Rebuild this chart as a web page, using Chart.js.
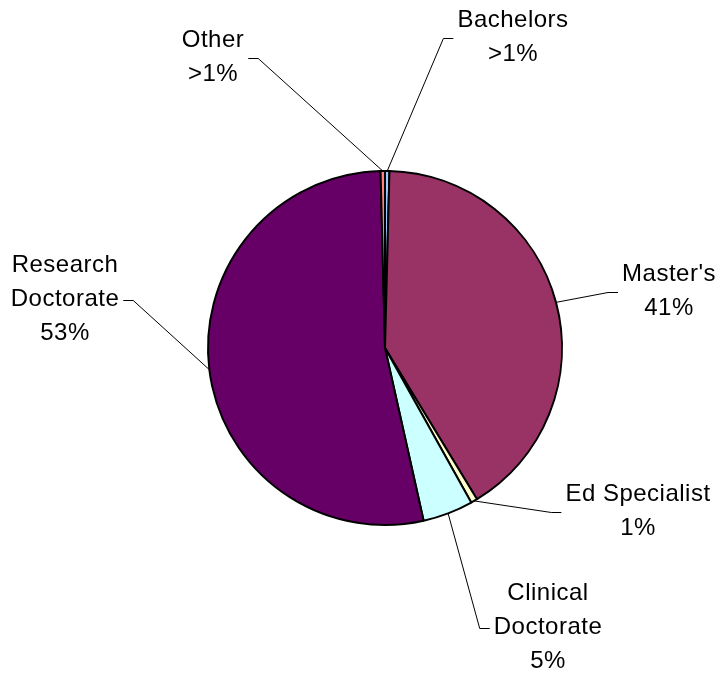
<!DOCTYPE html>
<html>
<head>
<meta charset="utf-8">
<script src="https://cdn.jsdelivr.net/npm/chart.js@4"></script>
<style>
  html, body { margin: 0; padding: 0; background: #fff; }
  canvas { display: block; }
</style>
</head>
<body>
<canvas id="pieChart" width="720" height="673"></canvas>
<script>
// data (percent of total)
const categories = ["Bachelors", "Master's", "Ed Specialist", "Clinical Doctorate", "Research Doctorate", "Other"];
const shares = [0.4, 40.9, 0.6, 4.6, 53.1, 0.4];
const shareLabels = [">1%", "41%", "1%", "5%", "53%", ">1%"];
const labelLines = [
    ["Bachelors"],
    ["Master's"],
    ["Ed Specialist"],
    ["Clinical", "Doctorate"],
    ["Research", "Doctorate"],
    ["Other"]
];

const sliceColors = ["#99CCFF", "#993366", "#FFFFCC", "#CCFFFF", "#660066", "#FF8080"];

// where each label block is centred (canvas px)
const labelPos = [
    [513, 37],
    [669, 291],
    [638, 511],
    [548, 627],
    [65, 299],
    [213, 57]
];

const lineGap = 34;

const calloutPlugin = {
    id: "callouts",
    afterDraw(chart) {
        const ctx = chart.ctx;
        const arcs = chart.getDatasetMeta(0).data;
        ctx.save();
        ctx.font = '24px "Liberation Sans", Arial, sans-serif';
        ctx.letterSpacing = "0.5px";
        ctx.textAlign = "center";
        ctx.textBaseline = "middle";
        arcs.forEach((arc, i) => {
            const p = arc.getProps(["x", "y", "startAngle", "endAngle", "outerRadius"], true);
            const mid = (p.startAngle + p.endAngle) / 2;
            const ex = p.x + Math.cos(mid) * p.outerRadius;
            const ey = p.y + Math.sin(mid) * p.outerRadius;

            const lines = labelLines[i].concat([shareLabels[i]]);
            const [cx, cy] = labelPos[i];
            const top = cy - (lines.length - 1) * lineGap / 2;
            let w = 0;
            lines.forEach((t, k) => {
                ctx.fillStyle = "#000";
                ctx.fillText(t, cx, top + k * lineGap);
                w = Math.max(w, ctx.measureText(t).width);
            });

            // leader: short horizontal near the label, then to the slice edge
            const hy = cy + 1.5;
            const right = cx > ex;
            const near = right ? cx - w / 2 - 4 : cx + w / 2 + 4;
            const elbow = right ? near - 10 : near + 10;
            ctx.beginPath();
            ctx.strokeStyle = "#000";
            ctx.lineWidth = 1;
            ctx.moveTo(near, hy);
            ctx.lineTo(elbow, hy);
            ctx.lineTo(ex, ey);
            ctx.stroke();
        });
        ctx.restore();
    }
};

const chart = new Chart(document.getElementById("pieChart").getContext("2d"), {
    type: "pie",
    data: {
        labels: categories,
        datasets: [{
            data: shares,
            backgroundColor: sliceColors,
            borderColor: "#000",
            borderWidth: 2
        }]
    },
    options: {
        responsive: false,
        animation: false,
        layout: { padding: { left: 207, top: 170, right: 157, bottom: 147 } },
        plugins: {
            legend: { display: false },
            tooltip: { enabled: false }
        }
    },
    plugins: [calloutPlugin]
});
</script>
</body>
</html>
